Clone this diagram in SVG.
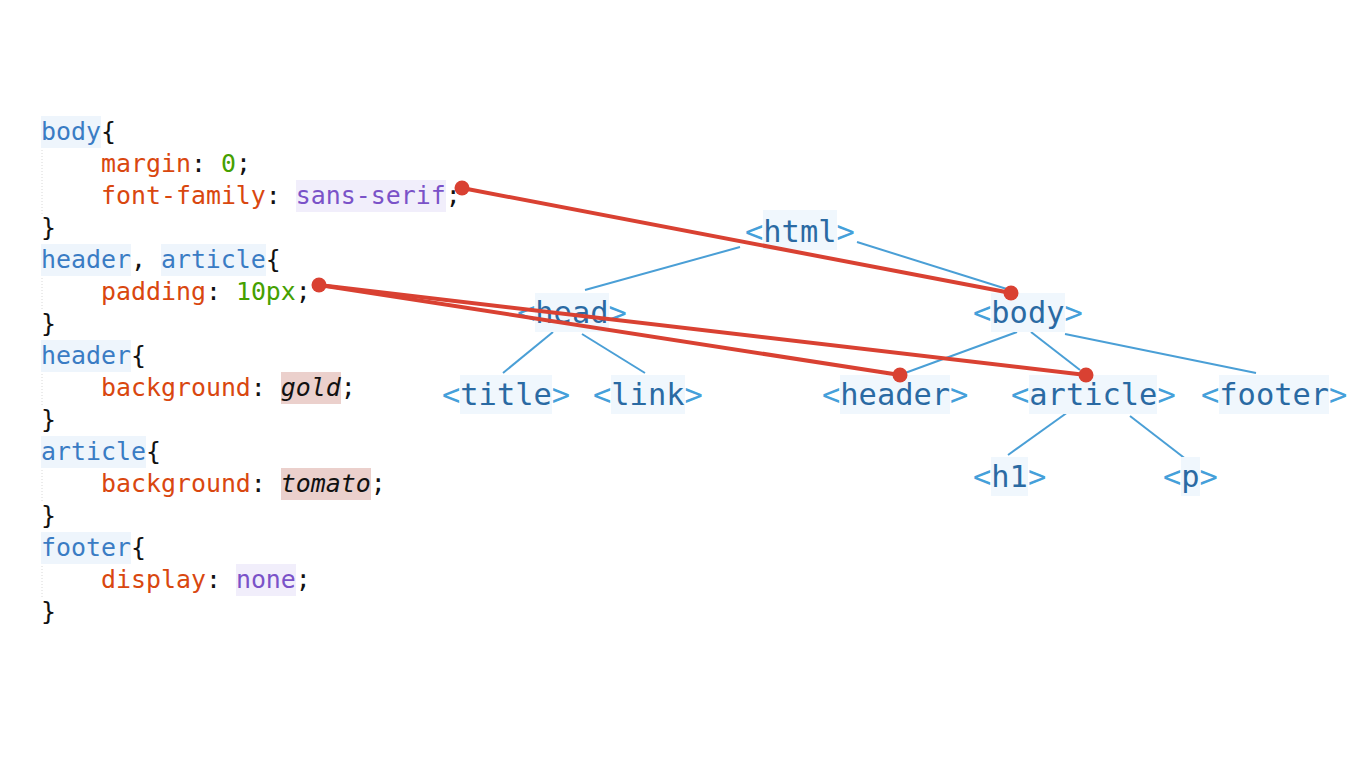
<svg xmlns="http://www.w3.org/2000/svg" width="1366" height="768" viewBox="0 0 1366 768">
<style>
.code{font-family:"DejaVu Sans Mono","Liberation Mono",monospace;font-size:24.9px;fill:#111}
.sel{fill:#3a7cc4}
.prop{fill:#d9470f}
.num{fill:#45a000}
.kw{fill:#7a52c8}
.it{font-style:italic;fill:#111}
.selbg{fill:#eef5fc}
.kwbg{fill:#f1eefb}
.pinkbg{fill:#ebd0cc}
.guide{stroke:#d8d8d8;stroke-width:1;stroke-dasharray:1 2}
.tag{font-family:"DejaVu Sans Mono","Liberation Mono",monospace;font-size:30.4px;fill:#2a6aa3}
.br{fill:#45a0da}
.tagbg{fill:#f0f7fd}
.tree{stroke:#4a9fd6;stroke-width:2;fill:none}
.red{stroke:#d94132;stroke-width:4;fill:none;stroke-linecap:round}
.dot{fill:#d94132}
</style>
<rect width="1366" height="768" fill="#ffffff"/>

<g id="css-code">
  <rect class="selbg" x="41" y="116" width="60" height="32"/>
  <rect class="kwbg" x="296" y="180" width="150" height="32"/>
  <rect class="selbg" x="41" y="244" width="90" height="32"/>
  <rect class="selbg" x="161" y="244" width="105" height="32"/>
  <rect class="selbg" x="41" y="340" width="90" height="32"/>
  <rect class="pinkbg" x="281" y="372" width="60" height="32"/>
  <rect class="selbg" x="41" y="436" width="105" height="32"/>
  <rect class="pinkbg" x="281" y="468" width="90" height="32"/>
  <rect class="selbg" x="41" y="532" width="90" height="32"/>
  <rect class="kwbg" x="236" y="564" width="60" height="32"/>
  <line class="guide" x1="42" y1="150" x2="42" y2="214"/>
  <line class="guide" x1="42" y1="278" x2="42" y2="310"/>
  <line class="guide" x1="42" y1="374" x2="42" y2="406"/>
  <line class="guide" x1="42" y1="470" x2="42" y2="502"/>
  <line class="guide" x1="42" y1="566" x2="42" y2="598"/>
  <text class="code" x="41" y="140"><tspan class="sel">body</tspan>{</text>
  <text class="code" x="101" y="172" xml:space="preserve"><tspan class="prop">margin</tspan>: <tspan class="num">0</tspan>;</text>
  <text class="code" x="101" y="204" xml:space="preserve"><tspan class="prop">font-family</tspan>: <tspan class="kw">sans-serif</tspan>;</text>
  <text class="code" x="41" y="236">}</text>
  <text class="code" x="41" y="268" xml:space="preserve"><tspan class="sel">header</tspan>, <tspan class="sel">article</tspan>{</text>
  <text class="code" x="101" y="300" xml:space="preserve"><tspan class="prop">padding</tspan>: <tspan class="num">10px</tspan>;</text>
  <text class="code" x="41" y="332">}</text>
  <text class="code" x="41" y="364"><tspan class="sel">header</tspan>{</text>
  <text class="code" x="101" y="396" xml:space="preserve"><tspan class="prop">background</tspan>: <tspan class="it">gold</tspan>;</text>
  <text class="code" x="41" y="428">}</text>
  <text class="code" x="41" y="460"><tspan class="sel">article</tspan>{</text>
  <text class="code" x="101" y="492" xml:space="preserve"><tspan class="prop">background</tspan>: <tspan class="it">tomato</tspan>;</text>
  <text class="code" x="41" y="524">}</text>
  <text class="code" x="41" y="556"><tspan class="sel">footer</tspan>{</text>
  <text class="code" x="101" y="588" xml:space="preserve"><tspan class="prop">display</tspan>: <tspan class="kw">none</tspan>;</text>
  <text class="code" x="41" y="620">}</text>
</g>

<g id="tree-connectors">
  <line class="tree" x1="740" y1="247" x2="585" y2="290"/>
  <line class="tree" x1="857" y1="242" x2="1010" y2="290"/>
  <line class="tree" x1="553" y1="332" x2="503" y2="373"/>
  <line class="tree" x1="582" y1="334" x2="645" y2="373"/>
  <line class="tree" x1="1017" y1="332" x2="905" y2="373"/>
  <line class="tree" x1="1031" y1="332" x2="1080" y2="370"/>
  <line class="tree" x1="1065" y1="334" x2="1256" y2="373"/>
  <line class="tree" x1="1068" y1="412" x2="1008" y2="455"/>
  <line class="tree" x1="1130" y1="416" x2="1187" y2="460"/>
</g>

<g id="node-html">
  <rect class="tagbg" x="763" y="210" width="74" height="40"/>
  <text class="tag" x="745" y="242"><tspan class="br">&lt;</tspan>html<tspan class="br">&gt;</tspan></text>
</g>
<g id="node-head">
  <rect class="tagbg" x="535" y="293" width="74" height="39"/>
  <text class="tag" x="517" y="323"><tspan class="br">&lt;</tspan>head<tspan class="br">&gt;</tspan></text>
</g>
<g id="node-body">
  <rect class="tagbg" x="991" y="293" width="74" height="39"/>
  <text class="tag" x="973" y="323"><tspan class="br">&lt;</tspan>body<tspan class="br">&gt;</tspan></text>
</g>
<g id="node-title">
  <rect class="tagbg" x="460" y="375" width="92" height="39"/>
  <text class="tag" x="442" y="405"><tspan class="br">&lt;</tspan>title<tspan class="br">&gt;</tspan></text>
</g>
<g id="node-link">
  <rect class="tagbg" x="611" y="375" width="74" height="39"/>
  <text class="tag" x="593" y="405"><tspan class="br">&lt;</tspan>link<tspan class="br">&gt;</tspan></text>
</g>
<g id="node-header">
  <rect class="tagbg" x="840" y="375" width="110" height="39"/>
  <text class="tag" x="822" y="405"><tspan class="br">&lt;</tspan>header<tspan class="br">&gt;</tspan></text>
</g>
<g id="node-article">
  <rect class="tagbg" x="1029" y="375" width="128" height="39"/>
  <text class="tag" x="1011" y="405"><tspan class="br">&lt;</tspan>article<tspan class="br">&gt;</tspan></text>
</g>
<g id="node-footer">
  <rect class="tagbg" x="1219" y="375" width="110" height="39"/>
  <text class="tag" x="1201" y="405"><tspan class="br">&lt;</tspan>footer<tspan class="br">&gt;</tspan></text>
</g>
<g id="node-h1">
  <rect class="tagbg" x="991" y="457" width="37" height="39"/>
  <text class="tag" x="973" y="487"><tspan class="br">&lt;</tspan>h1<tspan class="br">&gt;</tspan></text>
</g>
<g id="node-p">
  <rect class="tagbg" x="1181" y="457" width="19" height="39"/>
  <text class="tag" x="1163" y="487"><tspan class="br">&lt;</tspan>p<tspan class="br">&gt;</tspan></text>
</g>

<g id="rule-connectors">
  <line class="red" x1="462" y1="188" x2="1011" y2="293"/>
  <line class="red" x1="319" y1="285" x2="900" y2="375"/>
  <line class="red" x1="319" y1="285" x2="1086" y2="375"/>
  <circle class="dot" cx="462" cy="188" r="7.5"/>
  <circle class="dot" cx="1011" cy="293" r="7.5"/>
  <circle class="dot" cx="319" cy="285" r="7.5"/>
  <circle class="dot" cx="900" cy="375" r="7.5"/>
  <circle class="dot" cx="1086" cy="375" r="7.5"/>
</g>
</svg>
